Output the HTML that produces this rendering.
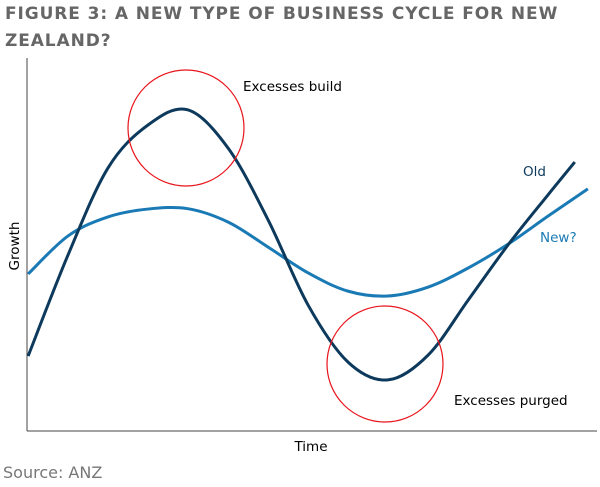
<!DOCTYPE html>
<html><head><meta charset="utf-8"><style>
body{margin:0;width:600px;height:487px;background:#fff;overflow:hidden;font-family:"DejaVu Sans",sans-serif}
.title{position:absolute;left:5px;top:1px;width:592px;font-weight:bold;font-size:17px;letter-spacing:0.9px;line-height:27px;color:#666}
.src{position:absolute;left:3px;top:463px;font-size:16px;color:#777}
svg{position:absolute;left:0;top:0}
svg text{font-family:"DejaVu Sans",sans-serif}
</style></head><body>
<div class="title">FIGURE 3: A NEW TYPE OF BUSINESS CYCLE FOR NEW ZEALAND?</div>
<svg width="600" height="487">
<line x1="27" y1="58" x2="27" y2="431" stroke="#444" stroke-width="1"/>
<line x1="27" y1="431" x2="597" y2="431" stroke="#444" stroke-width="1"/>
<text x="19" y="246" transform="rotate(-90 19 246)" text-anchor="middle" font-size="13.5" fill="#000">Growth</text>
<text x="311" y="451" text-anchor="middle" font-size="13.5" fill="#000">Time</text>
<g id="series"></g>
<circle cx="186" cy="128" r="58" fill="none" stroke="#e8141b" stroke-width="1.2"/>
<circle cx="385" cy="364" r="58" fill="none" stroke="#e8141b" stroke-width="1.2"/>
<text x="243" y="91" font-size="13.5" fill="#000">Excesses build</text>
<text x="454" y="405" font-size="13.5" fill="#000">Excesses purged</text>
<text x="523" y="176" font-size="13.5" fill="#0d3a5c">Old</text>
<text x="540" y="242" font-size="13.5" fill="#1a7ab5">New?</text>
</svg>
<div class="src">Source: ANZ</div>
<script>
const oldX=[0.2,7.2,14.2,21.2,28.2,35.3,42.3,49.3,56.3,63.3,70.4,77.4,84.4,91.4,96.1];
const oldY=[20.1,47.2,70.5,82.0,86.1,75.8,56.6,33.8,18.5,13.7,20.4,35.1,49.9,63.3,72.1];
const newX=[0.2,7.2,14.2,21.2,28.2,35.3,42.3,49.3,56.3,63.3,70.4,77.4,84.4,91.4,98.4];
const newY=[42.1,52.3,57.4,59.5,59.6,56.0,49.3,42.4,37.5,36.2,38.6,43.7,50.1,57.6,64.9];
const sx=v=>27+v/100*570, sy=v=>431-v/100*373;
function path(xs,ys){
  const p=xs.map((x,i)=>[sx(x),sy(ys[i])]);
  let d=`M${p[0][0]},${p[0][1]}`;
  for(let i=0;i<p.length-1;i++){
    const p0=p[i-1]||p[i],p1=p[i],p2=p[i+1],p3=p[i+2]||p2;
    d+=` C${p1[0]+(p2[0]-p0[0])/6},${p1[1]+(p2[1]-p0[1])/6} ${p2[0]-(p3[0]-p1[0])/6},${p2[1]-(p3[1]-p1[1])/6} ${p2[0]},${p2[1]}`;
  }
  return d;
}
const g=document.getElementById('series');
const ns='http://www.w3.org/2000/svg';
const a=document.createElementNS(ns,'path');
a.setAttribute('d',path(newX,newY));a.setAttribute('fill','none');a.setAttribute('stroke','#1a7ab5');a.setAttribute('stroke-width','3');


g.appendChild(a);
const b=document.createElementNS(ns,'path');
b.setAttribute('d',path(oldX,oldY));b.setAttribute('fill','none');b.setAttribute('stroke','#0d3a5c');b.setAttribute('stroke-width','3');


g.appendChild(b);
</script>
</body></html>
